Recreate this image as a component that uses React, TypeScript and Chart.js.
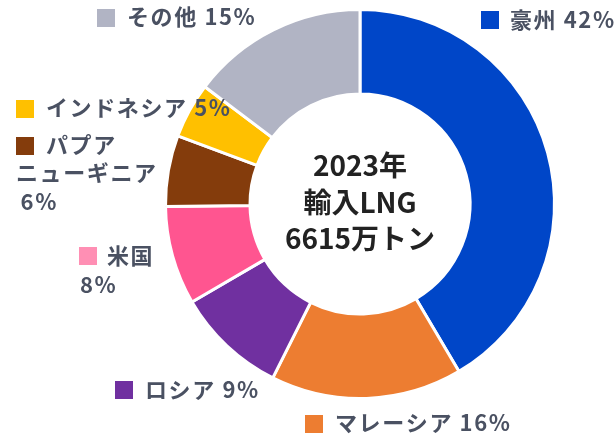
import React, { useEffect, useRef } from 'react';
import { Chart, registerables } from 'chart.js';

Chart.register(...registerables);

// ---- data ----
const categories = ['豪州', 'マレーシア', 'ロシア', '米国', 'パプアニューギニア', 'インドネシア', 'その他'];
const values = [41.5, 15.9, 9.2, 8.2, 5.9, 4.6, 14.7];
const percentLabels = ['42%', '16%', '9%', '8%', '6%', '5%', '15%'];
const centerLines = ['2023年', '輸入LNG', '6615万トン'];

// label text lines (how each category label wraps)
const labelLines: string[][] = [
  [`${categories[0]} ${percentLabels[0]}`],
  [`${categories[1]} ${percentLabels[1]}`],
  [`${categories[2]} ${percentLabels[2]}`],
  [categories[3], percentLabels[3]],
  ['パプア', 'ニューギニア', ' ' + percentLabels[4]],
  [`${categories[5]} ${percentLabels[5]}`],
  [`${categories[6]} ${percentLabels[6]}`],
];

// ---- styles / layout ----
const sliceColors = ['#0046C8', '#ED7D31', '#7030A0', '#FF5590', '#843C0C', '#FFC000', '#B1B4C4'];
const swatchColors = ['#0046C8', '#ED7D31', '#7030A0', '#FF8FB4', '#843C0C', '#FFC000', '#B1B4C4'];
const labelLayout = [
  { swatch: [481, 11], lines: [[510, 20]] },
  { swatch: [305, 415], lines: [[335, 423]] },
  { swatch: [115, 381], lines: [[145, 390]] },
  { swatch: [79, 247], lines: [[107, 256], [80, 285]] },
  { swatch: [16, 137], lines: [[46, 145], [16, 173], [14, 202]] },
  { swatch: [16, 100], lines: [[46, 108]] },
  { swatch: [97, 9], lines: [[127, 17]] },
];
const FONT = '"Noto Sans CJK JP", "Noto Sans", sans-serif';

const labelPlugin = {
  id: 'customLabels',
  afterDraw(chart: any) {
    const ctx = chart.ctx as CanvasRenderingContext2D;
    ctx.save();
    // outside labels
    ctx.font = `bold 22px ${FONT}`;
    (ctx as any).letterSpacing = '1.6px';
    ctx.textBaseline = 'middle';
    ctx.textAlign = 'left';
    labelLayout.forEach((lay, i) => {
      ctx.fillStyle = swatchColors[i];
      ctx.fillRect(lay.swatch[0], lay.swatch[1], 18, 18);
      ctx.fillStyle = '#4A5162';
      lay.lines.forEach((p, j) => {
        ctx.fillText(labelLines[i][j], p[0], p[1]);
      });
    });
    // center text
    const meta = chart.getDatasetMeta(0);
    const arc = meta.data[0];
    const cx = arc.x;
    const cy = arc.y;
    (ctx as any).letterSpacing = '0px';
    ctx.font = `bold 28px ${FONT}`;
    ctx.fillStyle = '#222222';
    ctx.textAlign = 'center';
    const lh = 36.5;
    centerLines.forEach((t, k) => {
      ctx.fillText(t, cx, cy + (k - 1) * lh - 2);
    });
    ctx.restore();
  },
};

export default function App() {
  const ref = useRef<HTMLCanvasElement>(null);
  useEffect(() => {
    document.body.style.margin = '0';
    const chart = new Chart(ref.current!, {
      type: 'doughnut',
      data: {
        labels: categories,
        datasets: [
          {
            data: values,
            backgroundColor: sliceColors,
            borderColor: '#ffffff',
            borderWidth: 3,
          },
        ],
      },
      options: {
        responsive: false,
        animation: false,
        cutout: 110,
        layout: { padding: { top: 8, bottom: 37, left: 164, right: 58 } },
        plugins: {
          legend: { display: false },
          tooltip: { enabled: false },
        },
      },
      plugins: [labelPlugin],
    });
    return () => chart.destroy();
  }, []);
  return (
    <div style={{ width: 614, height: 437, background: '#fff' }}>
      <canvas ref={ref} width={614} height={437} />
    </div>
  );
}
